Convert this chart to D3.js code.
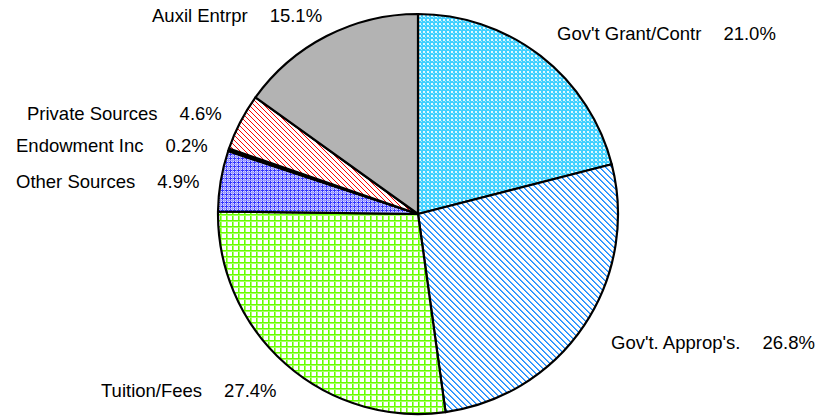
<!DOCTYPE html>
<html>
<head>
<meta charset="utf-8">
<script src="https://cdn.jsdelivr.net/npm/d3@7"></script>
<style>
  body { margin: 0; background: #fff; }
  text { font-family: "Liberation Sans", Arial, sans-serif; font-size: 18.5px; fill: #000; }
</style>
</head>
<body>
<div id="mainDiv"></div>
<script>
// slices, clockwise from 12 o'clock
var categories = ["Gov't Grant/Contr", "Gov't. Approp's.", "Tuition/Fees", "Other Sources",
                  "Endowment Inc", "Private Sources", "Auxil Entrpr"];
var shares = [21.0, 26.8, 27.4, 4.9, 0.2, 4.6, 15.1];

// fill pattern id for each slice
var fills = ["url(#pCyan)", "url(#pBlueDiag)", "url(#pGreen)", "url(#pPurple)",
             "#000", "url(#pRedDiag)", "#b3b3b3"];

// where each label starts (x, baseline)
var labelPos = [[557, 40], [611, 349], [101, 397], [16, 188], [16, 152], [27, 120], [152, 22]];

var width = 822, height = 416;
var cx = 418, cy = 214, radius = 200;

var svg = d3.select("#mainDiv").append("svg")
    .attr("width", width).attr("height", height);

var defs = svg.append("defs");

// helper to make a small tile pattern
function tile(id, size, bg, cells) {
    var p = defs.append("pattern")
        .attr("id", id)
        .attr("patternUnits", "userSpaceOnUse")
        .attr("width", size).attr("height", size);
    p.append("rect").attr("width", size).attr("height", size).attr("fill", bg);
    cells.forEach(function(c) {
        p.append("rect")
            .attr("x", c[0]).attr("y", c[1])
            .attr("width", c[2]).attr("height", c[3])
            .attr("fill", c[4])
            .attr("shape-rendering", "crispEdges");
    });
}

// light cyan speckle
tile("pCyan", 4, "#40d0ff", [[1, 1, 2, 2, "#e0f8ff"], [3, 3, 1, 1, "#a6e9ff"]]);

// blue diagonal lines
var blueCells = [];
for (var i = 0; i < 6; i++) {
    blueCells.push([i, i, 1, 1, "#1a8cff"]);
    blueCells.push([(i + 1) % 6, i, 1, 1, "#5aaaff"]);
}
tile("pBlueDiag", 6, "#fff", blueCells);

// green grid
tile("pGreen", 6, "#fff", [
    [0, 0, 1, 6, "#66ff00"], [1, 0, 1, 6, "#a6ff66"],
    [0, 0, 6, 1, "#66ff00"], [0, 1, 6, 1, "#a6ff66"]
]);

// purple grid
tile("pPurple", 4, "#dcdcff", [
    [0, 0, 1, 4, "#3333ff"], [0, 0, 4, 1, "#3333ff"],
    [2, 0, 1, 4, "#9999ff"], [0, 2, 4, 1, "#9999ff"]
]);

// red diagonal lines
var redCells = [];
for (var j = 0; j < 5; j++) redCells.push([j, j, 1, 1, "#ff0000"]);
tile("pRedDiag", 5, "#fff", redCells);

var pie = d3.pie().sort(null).value(function(d) { return d; });
var arc = d3.arc().innerRadius(0).outerRadius(radius);

var g = svg.append("g").attr("transform", "translate(" + cx + "," + cy + ")");

g.selectAll("path")
    .data(pie(shares))
    .enter().append("path")
    .attr("d", arc)
    .attr("fill", function(d, i) { return fills[i]; })
    .attr("stroke", "#000")
    .attr("stroke-width", 2.2)
    .attr("stroke-linejoin", "round");

var fmt = d3.format(".1f");

categories.forEach(function(name, i) {
    var t = svg.append("text")
        .attr("x", labelPos[i][0])
        .attr("y", labelPos[i][1]);
    t.append("tspan").text(name);
    t.append("tspan").attr("dx", 22).text(fmt(shares[i]) + "%");
});
</script>
</body>
</html>
